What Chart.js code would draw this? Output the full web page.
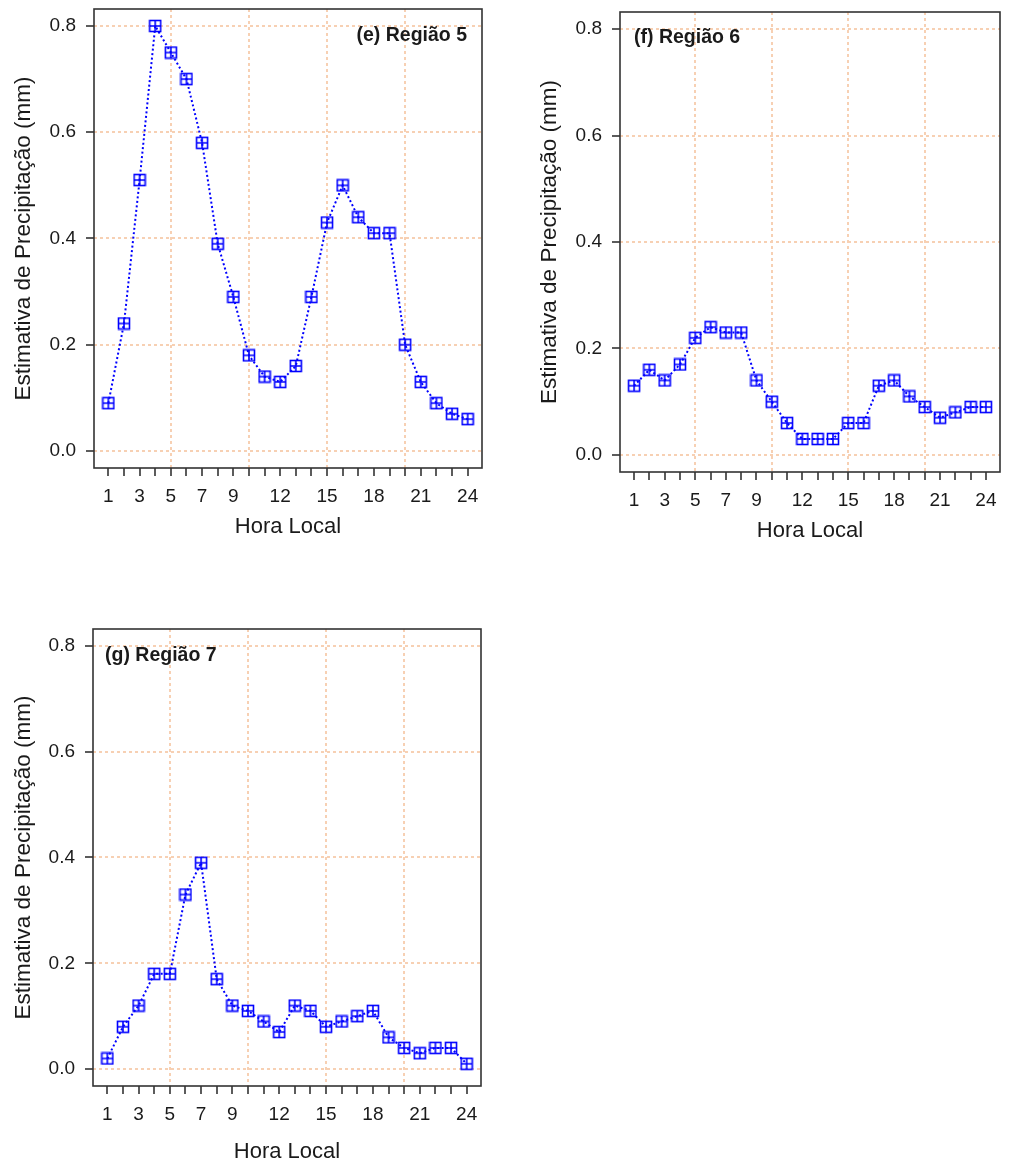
<!DOCTYPE html>
<html>
<head>
<meta charset="utf-8">
<script src="https://cdn.jsdelivr.net/npm/chart.js@4.4.0/dist/chart.umd.min.js"></script>
<style>
  body { margin: 0; background: #fff; width: 1009px; height: 1165px; position: relative; overflow: hidden; }
  .panel { position: absolute; }
</style>
</head>
<body>
<div class="panel" style="left:0px;top:0px"><canvas id="c5" width="500" height="545"></canvas></div>
<div class="panel" style="left:526px;top:0px"><canvas id="c6" width="483" height="550"></canvas></div>
<div class="panel" style="left:0px;top:620px"><canvas id="c7" width="500" height="545"></canvas></div>
<script>
// hours of the day (x) and tick label set
const hours = [1, 2, 3, 4, 5, 6, 7, 8, 9, 10, 11, 12, 13, 14, 15, 16, 17, 18, 19, 20, 21, 22, 23, 24];
const xTickLabels = [1, 3, 5, 7, 9, 12, 15, 18, 21, 24];
const xGridLines = [5, 10, 15, 20];
const yTicks = [0, 0.2, 0.4, 0.6, 0.8];

// precipitation estimates (mm)
const regiao5 = [0.09, 0.24, 0.51, 0.80, 0.75, 0.70, 0.58, 0.39, 0.29, 0.18, 0.14, 0.13,
                 0.16, 0.29, 0.43, 0.50, 0.44, 0.41, 0.41, 0.20, 0.13, 0.09, 0.07, 0.06];
const regiao6 = [0.13, 0.16, 0.14, 0.17, 0.22, 0.24, 0.23, 0.23, 0.14, 0.10, 0.06, 0.03,
                 0.03, 0.03, 0.06, 0.06, 0.13, 0.14, 0.11, 0.09, 0.07, 0.08, 0.09, 0.09];
const regiao7 = [0.02, 0.08, 0.12, 0.18, 0.18, 0.33, 0.39, 0.17, 0.12, 0.11, 0.09, 0.07,
                 0.12, 0.11, 0.08, 0.09, 0.10, 0.11, 0.06, 0.04, 0.03, 0.04, 0.04, 0.01];

const FONT = '"Liberation Sans", Arial, sans-serif';
const gridColor = '#f7d0b3';
const blue = '#0000ff';

Chart.defaults.font.family = FONT;

// square with a plus inside (R pch 12)
function squarePlus() {
  const c = document.createElement('canvas');
  c.width = 14; c.height = 14;
  const g = c.getContext('2d');
  g.strokeStyle = blue;
  g.lineWidth = 1.6;
  g.strokeRect(1.5, 1.5, 11, 11);
  g.beginPath();
  g.moveTo(7, 1.5); g.lineTo(7, 12.5);
  g.moveTo(1.5, 7); g.lineTo(12.5, 7);
  g.stroke();
  return c;
}
const marker = squarePlus();

const boxPlugin = {
  id: 'box',
  afterDraw(chart) {
    const {ctx, chartArea: a} = chart;
    ctx.save();
    ctx.strokeStyle = '#333';
    ctx.lineWidth = 1.6;
    ctx.strokeRect(a.left, a.top, a.right - a.left, a.bottom - a.top);
    ctx.restore();
  }
};

const panelLabel = {
  id: 'panelLabel',
  afterDraw(chart, args, opts) {
    if (!opts.text) return;
    const {ctx, chartArea: a} = chart;
    ctx.save();
    ctx.font = 'bold 19.5px ' + FONT;
    ctx.fillStyle = '#1a1a1a';
    ctx.textBaseline = 'middle';
    if (opts.side === 'right') {
      ctx.textAlign = 'right';
      ctx.fillText(opts.text, a.right - opts.dx, a.top + opts.dy);
    } else {
      ctx.textAlign = 'left';
      ctx.fillText(opts.text, a.left + opts.dx, a.top + opts.dy);
    }
    ctx.restore();
  }
};

function makeChart(id, values, label, g) {
  return new Chart(document.getElementById(id), {
    type: 'line',
    data: {
      datasets: [{
        data: hours.map((h, i) => ({x: h, y: values[i]})),
        borderColor: blue,
        borderWidth: 2,
        borderDash: [2, 2.5],
        pointStyle: marker,
        pointRadius: 7,
        tension: 0,
        fill: false
      }]
    },
    options: {
      responsive: false,
      animation: false,
      layout: {padding: g.pad},
      plugins: {
        legend: {display: false},
        tooltip: {enabled: false},
        panelLabel: label
      },
      scales: {
        x: {
          type: 'linear',
          min: 0.08, max: 24.92,
          afterBuildTicks: s => { s.ticks = hours.map(v => ({value: v})); },
          afterFit: s => { s.height = g.xh; s.paddingLeft = 0; s.paddingRight = 0; },
          ticks: {
            autoSkip: false, maxRotation: 0, padding: 9, color: '#1a1a1a',
            font: {size: 19},
            callback: v => xTickLabels.includes(v) ? String(v) : ''
          },
          grid: {
            color: c => (c.tick && xGridLines.includes(c.tick.value)) ? gridColor : 'rgba(255,255,255,0)',
            lineWidth: 2,
            tickColor: '#333', tickLength: 8, tickWidth: 1.6
          },
          border: {display: false, dash: [3, 3]},
          title: {
            display: true, text: 'Hora Local', color: '#1a1a1a',
            font: {size: 22}, padding: {top: 0, bottom: g.xtp}
          }
        },
        y: {
          type: 'linear',
          min: -0.032, max: 0.832,
          afterBuildTicks: s => { s.ticks = yTicks.map(v => ({value: v})); },
          afterFit: s => { s.width = g.yw; s.paddingTop = 0; s.paddingBottom = 0; },
          ticks: {
            padding: 10, color: '#1a1a1a', font: {size: 19},
            callback: v => v.toFixed(1)
          },
          grid: {
            color: gridColor, lineWidth: 2,
            tickColor: '#333', tickLength: 8, tickWidth: 1.6
          },
          border: {display: false, dash: [3, 3]},
          title: {
            display: true, text: 'Estimativa de Precipitação (mm)', color: '#1a1a1a',
            font: {size: 22.5}, padding: {top: 10, bottom: 0}
          }
        }
      }
    },
    plugins: [boxPlugin, panelLabel]
  });
}

makeChart('c5', regiao5, {text: '(e) Região 5', side: 'right', dx: 15, dy: 27},
  {pad: {left: 0, top: 8, right: 18, bottom: 0}, yw: 94, xh: 77, xtp: 5});
makeChart('c6', regiao6, {text: '(f) Região 6', side: 'left', dx: 14, dy: 26},
  {pad: {left: 0, top: 12, right: 3, bottom: 0}, yw: 94, xh: 78, xtp: 6});
makeChart('c7', regiao7, {text: '(g) Região 7', side: 'left', dx: 12, dy: 27},
  {pad: {left: 0, top: 9, right: 19, bottom: 0}, yw: 93, xh: 79, xtp: 0});
</script>
</body>
</html>
